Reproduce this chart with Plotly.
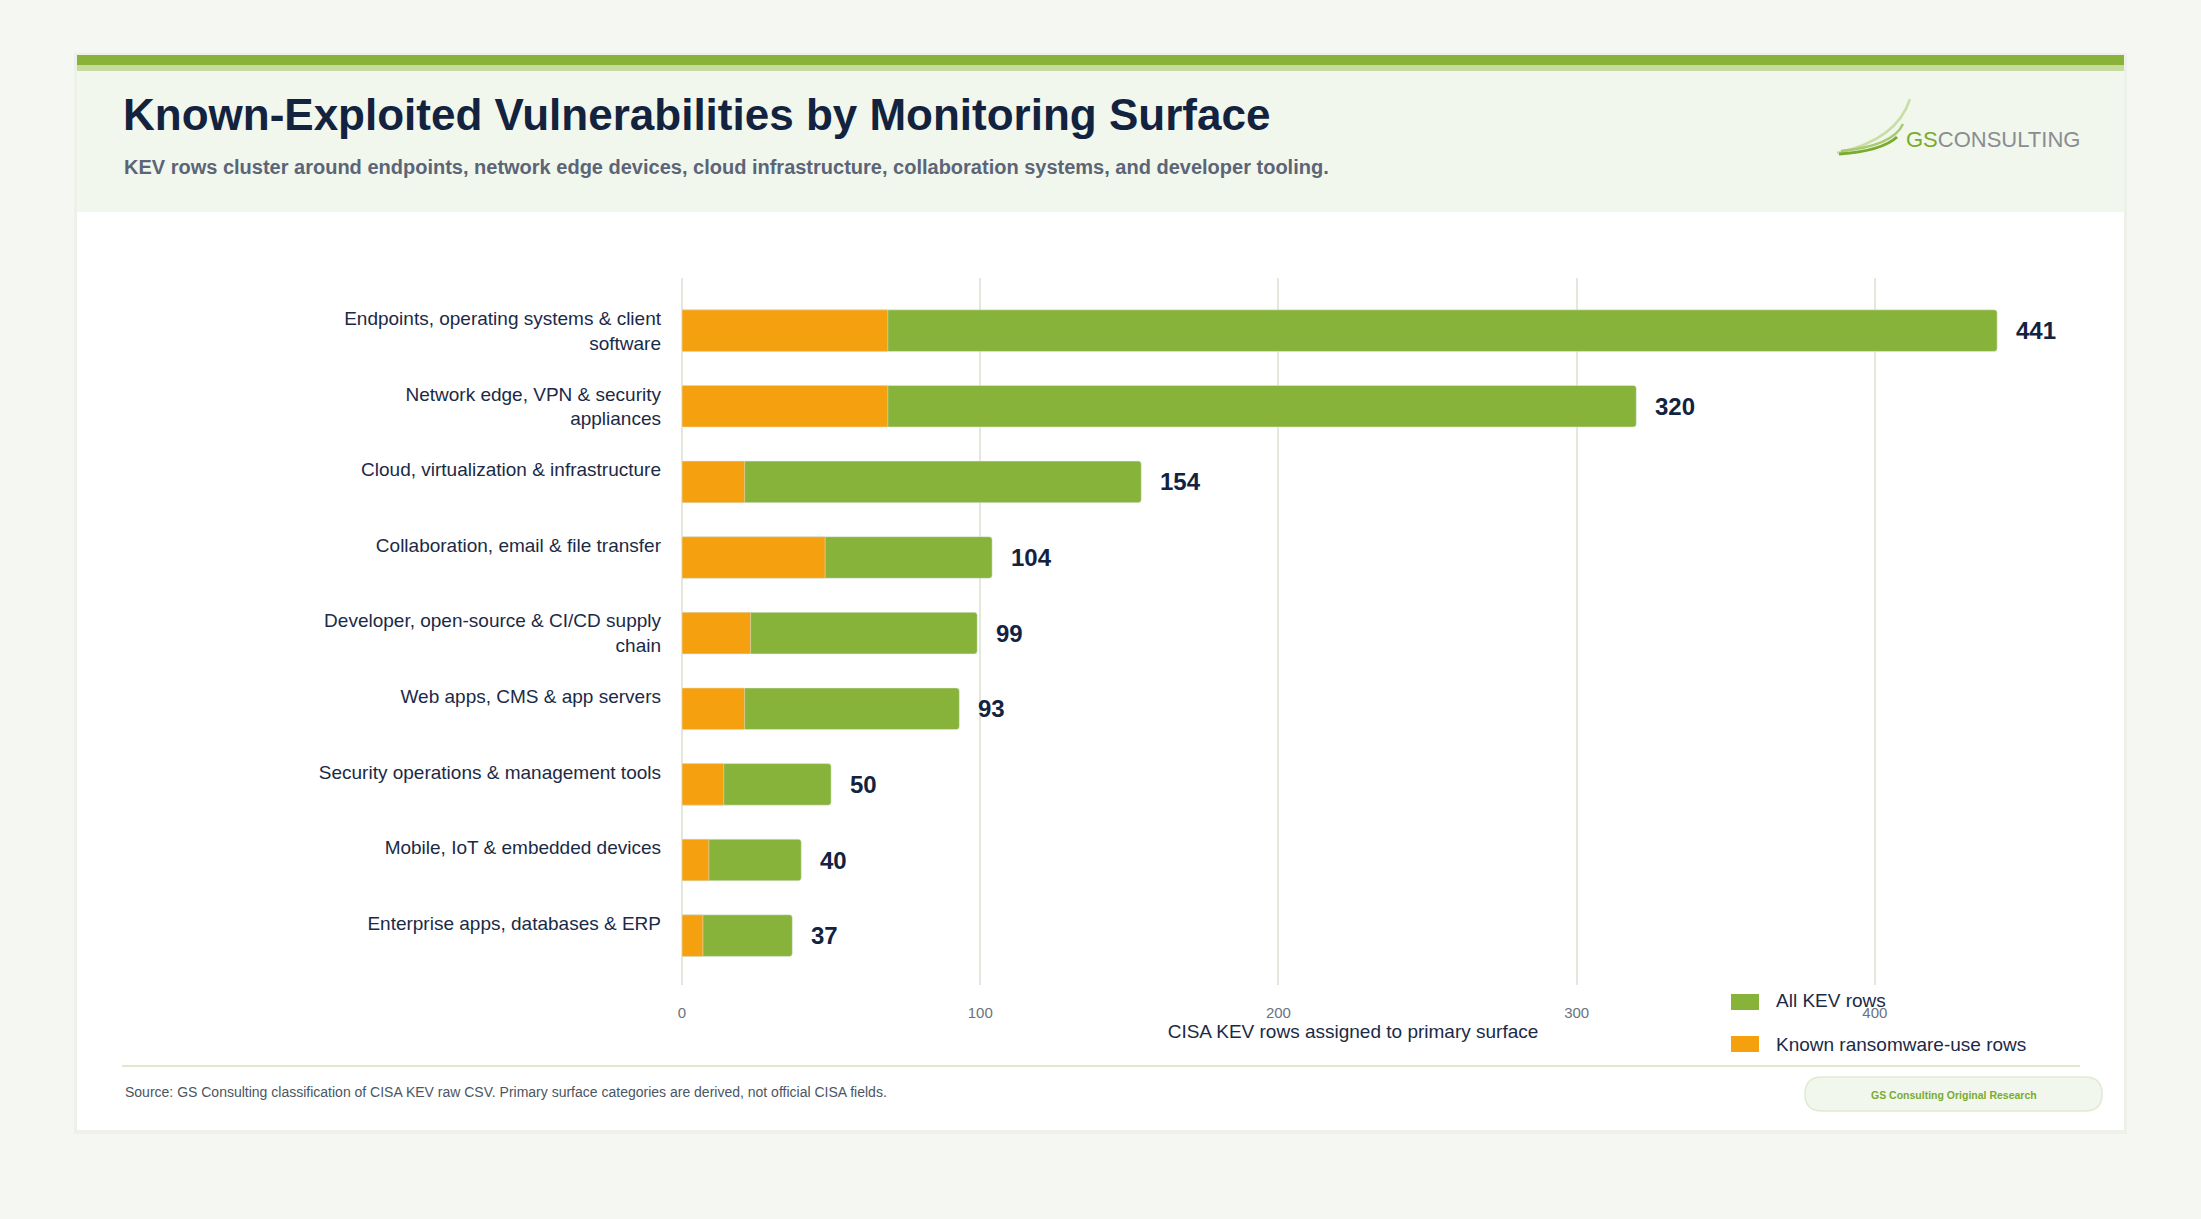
import plotly.graph_objects as go

categories = [
    "Endpoints, operating systems & client<br>software",
    "Network edge, VPN & security<br>appliances",
    "Cloud, virtualization & infrastructure<br> ",
    "Collaboration, email & file transfer<br> ",
    "Developer, open-source & CI/CD supply<br>chain",
    "Web apps, CMS & app servers<br> ",
    "Security operations & management tools<br> ",
    "Mobile, IoT & embedded devices<br> ",
    "Enterprise apps, databases & ERP<br> ",
]
all_kev = [441, 320, 154, 104, 99, 93, 50, 40, 37]
ransomware = [69, 69, 21, 48, 23, 21, 14, 9, 7]
x_ticks = [0, 100, 200, 300, 400]

GREEN = "#88b33a"
ORANGE = "#f5a00f"
NAVY = "#13233f"
FONT = "Liberation Sans, Arial, sans-serif"

W, H = 2201, 1219
ML, MR, MT, MB = 682, 177, 278, 234
PW = W - ML - MR
PH = H - MT - MB


def X(px):
    return (px - ML) / PW


def Y(py):
    return (H - MB - py) / PH


def path(points, close=True):
    s = ""
    for cmd, pts in points:
        s += cmd + " ".join(f"{X(a):.5f},{Y(b):.5f}" for a, b in pts) + " "
    if close:
        s += "Z"
    return s


fig = go.Figure()
fig.add_trace(go.Bar(
    y=categories, x=all_kev, orientation="h", name="All KEV rows",
    marker=dict(color=GREEN, cornerradius=3), width=0.55,
    hovertemplate="%{y}: %{x}<extra></extra>",
))
fig.add_trace(go.Bar(
    y=categories, x=ransomware, orientation="h", name="Known ransomware-use rows",
    marker=dict(color=ORANGE, cornerradius=3), width=0.55,
    hovertemplate="%{y}: %{x}<extra></extra>",
))

shapes = []
# card shadow + card
shapes.append(dict(type="rect", xref="paper", yref="paper", layer="below",
                   x0=X(74), x1=X(2127), y0=Y(53), y1=Y(1134),
                   fillcolor="rgba(60,80,40,0.035)", line=dict(width=0)))
shapes.append(dict(type="rect", xref="paper", yref="paper", layer="below",
                   x0=X(77), x1=X(2124), y0=Y(55), y1=Y(1130),
                   fillcolor="#ffffff", line=dict(width=0)))
# header band
shapes.append(dict(type="rect", xref="paper", yref="paper", layer="below",
                   x0=X(77), x1=X(2124), y0=Y(70), y1=Y(212),
                   fillcolor="#f1f7ec", line=dict(width=0)))
shapes.append(dict(type="rect", xref="paper", yref="paper", layer="below",
                   x0=X(77), x1=X(2124), y0=Y(55), y1=Y(65),
                   fillcolor="#88b238", line=dict(width=0)))
shapes.append(dict(type="rect", xref="paper", yref="paper", layer="below",
                   x0=X(77), x1=X(2124), y0=Y(65), y1=Y(71),
                   fillcolor="#c5dba0", line=dict(width=0)))
# footer line
shapes.append(dict(type="line", xref="paper", yref="paper", layer="below",
                   x0=X(122), x1=X(2080), y0=Y(1066), y1=Y(1066),
                   line=dict(color="#dde8cf", width=2)))
# pill badge
px0, px1, py0, py1, r = 1805, 2102, 1077, 1111, 17
pill = path([
    ("M", [(px0 + r, py0)]),
    ("L", [(px1 - r, py0)]),
    ("Q", [(px1, py0), (px1, py0 + r)]),
    ("Q", [(px1, py1), (px1 - r, py1)]),
    ("L", [(px0 + r, py1)]),
    ("Q", [(px0, py1), (px0, py0 + r)]),
    ("Q", [(px0, py0), (px0 + r, py0)]),
])
shapes.append(dict(type="path", xref="paper", yref="paper", layer="below", path=pill,
                   fillcolor="#f1f7ec", line=dict(color="#dfead2", width=1.5)))
# legend swatches
shapes.append(dict(type="rect", xref="paper", yref="paper",
                   x0=X(1731), x1=X(1759), y0=Y(994), y1=Y(1010),
                   fillcolor=GREEN, line=dict(width=0)))
shapes.append(dict(type="rect", xref="paper", yref="paper",
                   x0=X(1731), x1=X(1759), y0=Y(1036), y1=Y(1052),
                   fillcolor=ORANGE, line=dict(width=0)))
# logo swooshes
for (p0, c, p1, col, wd) in [
    ((1837, 153), (1897, 140), (1910, 99), "#c9dea6", 2.5),
    ((1841, 151), (1893, 146), (1903, 124), "#a9ca70", 2.5),
    ((1839, 154), (1882, 151), (1897, 137), "#7aab2e", 3),
]:
    shapes.append(dict(type="path", xref="paper", yref="paper",
                       path=path([("M", [p0]), ("Q", [c, p1])], close=False),
                       line=dict(color=col, width=wd)))

annotations = []
annotations.append(dict(xref="paper", yref="paper", x=X(121), y=Y(115),
                        xanchor="left", yanchor="middle", showarrow=False,
                        text="<b>Known-Exploited Vulnerabilities by Monitoring Surface</b>",
                        font=dict(family=FONT, size=44, color=NAVY)))
annotations.append(dict(xref="paper", yref="paper", x=X(122), y=Y(167),
                        xanchor="left", yanchor="middle", showarrow=False,
                        text="<b>KEV rows cluster around endpoints, network edge devices, cloud infrastructure, collaboration systems, and developer tooling.</b>",
                        font=dict(family=FONT, size=20, color="#5b6577")))
annotations.append(dict(xref="paper", yref="paper", x=X(1904), y=Y(139),
                        xanchor="left", yanchor="middle", showarrow=False,
                        text="<span style='color:#7aab2e'>GS</span><span style='color:#8a8d91'>CONSULTING</span>",
                        font=dict(family=FONT, size=22, color="#8a8d91")))
annotations.append(dict(xref="paper", yref="paper", x=X(123), y=Y(1092),
                        xanchor="left", yanchor="middle", showarrow=False,
                        text="Source: GS Consulting classification of CISA KEV raw CSV. Primary surface categories are derived, not official CISA fields.",
                        font=dict(family=FONT, size=14, color="#4b5563")))
annotations.append(dict(xref="paper", yref="paper", x=X(1954), y=Y(1095),
                        xanchor="center", yanchor="middle", showarrow=False,
                        text="<b>GS Consulting Original Research</b>",
                        font=dict(family=FONT, size=10.5, color="#7aab2e")))
# legend labels
annotations.append(dict(xref="paper", yref="paper", x=X(1774), y=Y(1001),
                        xanchor="left", yanchor="middle", showarrow=False,
                        text=fig.data[0].name,
                        font=dict(family=FONT, size=19, color="#1b2a47")))
annotations.append(dict(xref="paper", yref="paper", x=X(1774), y=Y(1044),
                        xanchor="left", yanchor="middle", showarrow=False,
                        text=fig.data[1].name,
                        font=dict(family=FONT, size=19, color="#1b2a47")))
# value labels
for cat, v in zip(categories, all_kev):
    annotations.append(dict(x=v, y=cat, xref="x", yref="y", xanchor="left",
                            yanchor="middle", xshift=17, showarrow=False,
                            text=f"<b>{v}</b>",
                            font=dict(family=FONT, size=24, color=NAVY)))

fig.update_layout(
    width=W, height=H,
    margin=dict(l=ML, r=MR, t=MT, b=MB, pad=0),
    paper_bgcolor="#f5f7f2",
    plot_bgcolor="rgba(0,0,0,0)",
    barmode="overlay",
    bargap=0.45,
    showlegend=False,
    shapes=shapes,
    annotations=annotations,
    font=dict(family=FONT, color="#1b2a47"),
)
fig.update_xaxes(
    range=[0, 450], tickvals=x_ticks, ticktext=[str(t) for t in x_ticks],
    showgrid=True, gridcolor="#e2e9dc", gridwidth=1.5,
    zeroline=True, zerolinecolor="#e2e9dc", zerolinewidth=1.5,
    showline=False, ticks="", ticklabelstandoff=17,
    tickfont=dict(family=FONT, size=15, color="#6b7280"),
    title=dict(text="CISA KEV rows assigned to primary surface", standoff=3,
               font=dict(family=FONT, size=19, color="#1b2a47")),
    fixedrange=True,
)
fig.update_yaxes(
    type="category", categoryorder="array", categoryarray=categories,
    range=[8.653, -0.696], showgrid=False, zeroline=False, showline=False,
    ticks="", ticklabelstandoff=20,
    tickfont=dict(family=FONT, size=19, color="#1b2a47"),
    fixedrange=True,
)

fig.write_html("out.html")
